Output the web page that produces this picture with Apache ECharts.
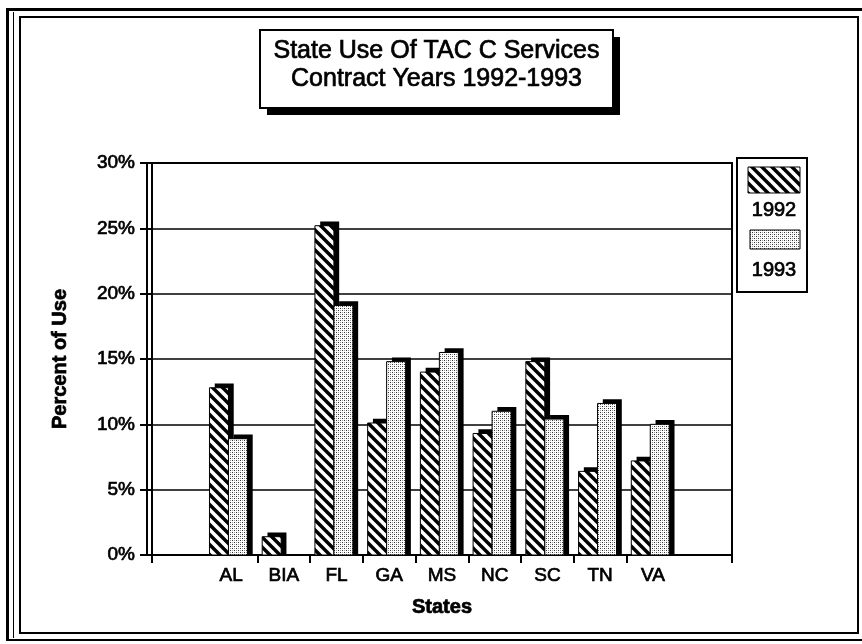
<!DOCTYPE html>
<html>
<head>
<meta charset="utf-8">
<script src="https://cdn.jsdelivr.net/npm/echarts@6/dist/echarts.min.js"></script>
<style>
html,body{margin:0;padding:0;background:#fff;}
#chart{width:862px;height:644px;}
</style>
</head>
<body>
<div id="chart"></div>
<script>
// ---- data ----
const categories = ['', 'AL', 'BIA', 'FL', 'GA', 'MS', 'NC', 'SC', 'TN', 'VA', ''];
const values1992 = [null, 12.8, 1.4, 25.2, 10.1, 14.0, 9.3, 14.8, 6.4, 7.2, null];
const values1993 = [null, 8.9, 0, 19.1, 14.8, 15.5, 11.0, 10.4, 11.6, 10.0, null];
const seriesNames = ['1992', '1993'];
const titleLines = ['State Use Of TAC C Services', 'Contract Years 1992-1993'];
const yTickValues = [0, 5, 10, 15, 20, 25, 30];
const xAxisTitle = 'States';
const yAxisTitle = 'Percent of Use';

const FONT = "'Liberation Sans', Arial, Helvetica, sans-serif";
const INK = { textBorderColor: '#000', textBorderWidth: 0.7 };
const GINK = { stroke: '#000', lineWidth: 0.7 };

// ---- patterns ----
function hatchCanvas() {
  const n = 10;
  const c = document.createElement('canvas');
  c.width = n; c.height = n;
  const g = c.getContext('2d');
  g.fillStyle = '#000'; g.fillRect(0, 0, n, n);
  g.strokeStyle = '#fff'; g.lineWidth = 3.6;
  g.beginPath();
  g.moveTo(-2, -2); g.lineTo(n + 2, n + 2);
  g.moveTo(-2, n - 2); g.lineTo(2, n + 2);
  g.moveTo(n - 2, -2); g.lineTo(n + 2, 2);
  g.stroke();
  return c;
}
function dotCanvas() {
  const c = document.createElement('canvas');
  c.width = 4; c.height = 4;
  const g = c.getContext('2d');
  g.fillStyle = '#fff'; g.fillRect(0, 0, 4, 4);
  g.fillStyle = '#333';
  g.fillRect(0, 0, 1, 1);
  g.fillRect(2, 2, 1, 1);
  g.fillStyle = '#999';
  g.fillRect(2, 0, 1, 1);
  g.fillRect(0, 2, 1, 1);
  return c;
}
const hatchFill = { image: hatchCanvas(), repeat: 'repeat' };
const dotFill = { image: dotCanvas(), repeat: 'repeat' };
const fills = [hatchFill, dotFill];

function makeRender(slot) {
  return function (params, api) {
    const v = api.value(1);
    if (v == null || isNaN(v) || v <= 0) return;
    const catW = api.size([1, 0])[0];
    const base = api.coord([api.value(0), 0]);
    const top = api.coord([api.value(0), v]);
    const barW = catW * 0.36;
    const sh = catW * 0.1;
    const left = base[0] - (2 * barW + sh) / 2 + slot * barW;
    return {
      type: 'group',
      children: [
        { type: 'rect', shape: { x: left + sh, y: top[1] - sh * 0.8, width: barW, height: base[1] - top[1] + sh * 0.8 },
          style: { fill: '#000' } },
        { type: 'rect', shape: { x: left, y: top[1], width: barW, height: base[1] - top[1] },
          style: { fill: fills[slot], stroke: '#000', lineWidth: 1 } }
      ]
    };
  };
}

const chart = echarts.init(document.getElementById('chart'), null, { renderer: 'canvas' });

const option = {
  backgroundColor: '#fff',
  animation: false,
  grid: { left: 152, right: 130, top: 163, bottom: 89, show: true, borderColor: '#000', borderWidth: 2, backgroundColor: 'transparent' },
  xAxis: {
    type: 'category',
    data: categories,
    boundaryGap: true,
    axisLine: { show: true, lineStyle: { color: '#000', width: 2 } },
    axisTick: { show: true, length: 8, lineStyle: { color: '#000', width: 2 },
      interval: function (index) { return index !== 1 && index !== categories.length - 1; } },
    axisLabel: Object.assign({ interval: 0, color: '#000', fontFamily: FONT, fontSize: 19, margin: 11 }, INK),
    name: xAxisTitle, nameLocation: 'middle', nameGap: 42,
    nameTextStyle: Object.assign({ color: '#000', fontFamily: FONT, fontSize: 20, fontWeight: 'bold' }, INK)
  },
  yAxis: [{
    type: 'value', min: yTickValues[0], max: yTickValues[yTickValues.length - 1],
    interval: yTickValues[1] - yTickValues[0],
    axisLine: { show: true, lineStyle: { color: '#000', width: 2 } },
    axisTick: { show: true, length: 12, lineStyle: { color: '#000', width: 2 } },
    axisLabel: Object.assign({ color: '#000', fontFamily: FONT, fontSize: 19, margin: 17, formatter: '{value}%' }, INK),
    splitLine: { show: true, lineStyle: { color: '#000', width: 1.5 } },
    name: yAxisTitle, nameLocation: 'middle', nameRotate: 90, nameGap: 82,
    nameTextStyle: Object.assign({ color: '#000', fontFamily: FONT, fontSize: 20, fontWeight: 'bold' }, INK)
  }, {
    type: 'value', position: 'left', offset: 5,
    min: yTickValues[0], max: yTickValues[yTickValues.length - 1],
    axisLine: { show: true, lineStyle: { color: '#000', width: 2 } },
    axisTick: { show: false }, axisLabel: { show: false }, splitLine: { show: false }
  }],
  series: [
    { name: seriesNames[0], type: 'custom', renderItem: makeRender(0), encode: { x: 0, y: 1 },
      data: categories.map((c, i) => [i, values1992[i]]), z: 3 },
    { name: seriesNames[1], type: 'custom', renderItem: makeRender(1), encode: { x: 0, y: 1 },
      data: categories.map((c, i) => [i, values1993[i]]), z: 4 }
  ],
  graphic: [
    // outer frame
    { type: 'rect', shape: { x: 20, y: 17, width: 838, height: 616 }, style: { fill: 'none', stroke: '#000', lineWidth: 2 }, silent: true },
    { type: 'line', shape: { x1: 7.5, y1: 8, x2: 7.5, y2: 641 }, style: { stroke: '#000', lineWidth: 3 } },
    { type: 'line', shape: { x1: 13.5, y1: 12, x2: 13.5, y2: 638 }, style: { stroke: '#000', lineWidth: 1 } },
    { type: 'line', shape: { x1: 6, y1: 9.5, x2: 862, y2: 9.5 }, style: { stroke: '#000', lineWidth: 3 } },
    { type: 'line', shape: { x1: 6, y1: 640, x2: 862, y2: 640 }, style: { stroke: '#000', lineWidth: 2 } },
    // title box
    { type: 'rect', shape: { x: 267, y: 37, width: 353, height: 78 }, style: { fill: '#000' } },
    { type: 'rect', shape: { x: 260, y: 30, width: 353, height: 78 }, style: { fill: '#fff', stroke: '#000', lineWidth: 2 } },
    { type: 'text', x: 436.5, y: 51, style: Object.assign({ text: titleLines[0], fill: '#000', font: '25px ' + FONT, textAlign: 'center', textVerticalAlign: 'middle' }, GINK) },
    { type: 'text', x: 436.5, y: 79, style: Object.assign({ text: titleLines[1], fill: '#000', font: '25px ' + FONT, textAlign: 'center', textVerticalAlign: 'middle' }, GINK) },
    // legend
    { type: 'rect', shape: { x: 737, y: 158, width: 70, height: 134 }, style: { fill: '#fff', stroke: '#000', lineWidth: 2 } },
    { type: 'rect', shape: { x: 748, y: 167, width: 52, height: 26 }, style: { fill: hatchFill, stroke: '#000', lineWidth: 1 } },
    { type: 'text', x: 774, y: 210, style: Object.assign({ text: seriesNames[0], fill: '#000', font: '20px ' + FONT, textAlign: 'center', textVerticalAlign: 'middle' }, GINK) },
    { type: 'rect', shape: { x: 750, y: 230, width: 50, height: 19 }, style: { fill: dotFill, stroke: '#000', lineWidth: 1 } },
    { type: 'text', x: 774, y: 270, style: Object.assign({ text: seriesNames[1], fill: '#000', font: '20px ' + FONT, textAlign: 'center', textVerticalAlign: 'middle' }, GINK) }
  ]
};
chart.setOption(option);
</script>
</body>
</html>
